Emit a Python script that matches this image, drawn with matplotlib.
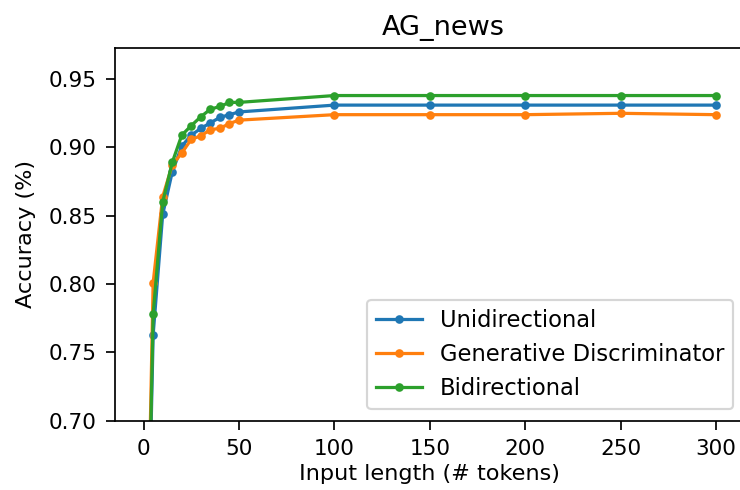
"""
plot.py — accuracy vs input length on AG_news.
"""

import matplotlib
matplotlib.use("Agg")
import matplotlib.pyplot as plt

lengths = [0, 5, 10, 15, 20, 25, 30, 35, 40, 45, 50, 100, 150, 200, 250, 300]

unidirectional = [0.45, 0.763, 0.851, 0.882, 0.901, 0.909, 0.914, 0.918, 0.922, 0.924, 0.926,
                  0.931, 0.931, 0.931, 0.931, 0.931]
generative = [0.45, 0.801, 0.864, 0.887, 0.896, 0.906, 0.9085, 0.913, 0.914, 0.9175, 0.920,
              0.924, 0.924, 0.924, 0.925, 0.924]
bidirectional = [0.45, 0.778, 0.860, 0.889, 0.909, 0.916, 0.9225, 0.928, 0.930, 0.933, 0.933,
                 0.938, 0.938, 0.938, 0.938, 0.938]

DPI = 155
fig = plt.figure(figsize=(740 / DPI, 490 / DPI), dpi=DPI)
ax = fig.add_axes([0.1554, 0.1414, 0.8508, 0.7612])

ax.plot(lengths, unidirectional, marker=".", label="Unidirectional")
ax.plot(lengths, generative, marker=".", label="Generative Discriminator")
ax.plot(lengths, bidirectional, marker=".", label="Bidirectional")

ax.set_xlim(-15, 315)
ax.set_ylim(0.70, 0.973)
ax.set_yticks([0.70, 0.75, 0.80, 0.85, 0.90, 0.95])
ax.set_xticks([0, 50, 100, 150, 200, 250, 300])
ax.tick_params(length=4.2, pad=4.2)
ax.set_xlabel("Input length (# tokens)", fontsize=10.4, labelpad=2.5)
ax.set_ylabel("Accuracy (%)", fontsize=10.4, labelpad=6)
ax.set_title("AG_news", fontsize=12.6, x=0.522)
ax.legend(loc="lower right", fontsize=10.5)

fig.savefig("out.png", dpi=DPI)
